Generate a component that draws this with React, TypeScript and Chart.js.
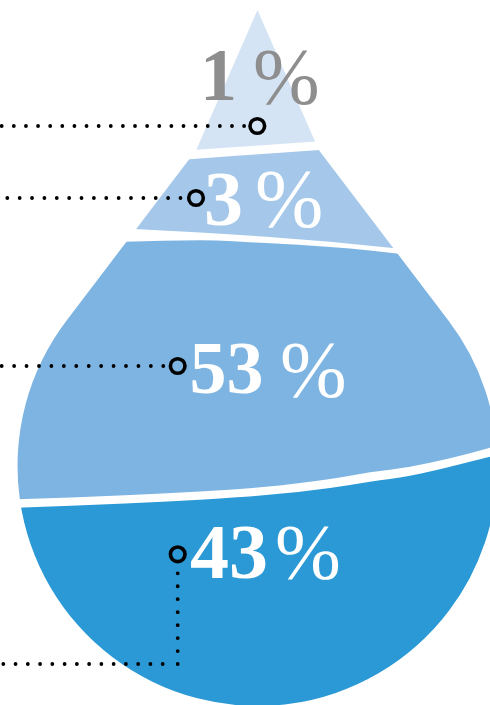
import React, { useEffect, useRef } from "react";
import { Chart, registerables } from "chart.js";

Chart.register(...registerables);

// ---- data ----
const shares = [1, 3, 53, 43];
const bandColors = ["#d5e4f5", "#a5c8ea", "#7eb4e1", "#2a99d5"];
const labelColors = ["#8e8e8e", "#ffffff", "#ffffff", "#ffffff"];

// band edges (drawing units, y grows downward)
const edgeX = [0, 125, 200, 266, 330, 370, 410, 450, 490];
const band1Bottom = [163.8, 154.9, 149.6, 145.0, 140.5, 137.6, 134.8, 132.0, 129.2];
const band2Top = [172.5, 163.7, 158.4, 153.7, 149.2, 146.3, 143.5, 140.7, 137.9];
const band2Bottom = [221.5, 228.5, 232.5, 236.7, 241.8, 245.8, 249.8, 253.8, 257.8];
const band3Top = [246.0, 241.7, 240.2, 243.0, 247.0, 250.5, 255.0, 259.5, 265.0];
const band3Bottom = [500.0, 495.3, 491.5, 486.8, 479.0, 472.3, 466.7, 458.3, 447.7];
const band4Top = [508.5, 503.6, 499.8, 495.1, 488.0, 481.7, 475.7, 466.7, 456.7];

// label anchors (markers) and leader lines
const markerX = [257.3, 196, 177.7, 177.7];
const markerY = [126, 198, 366, 554.3];
const leaderStartX = [1.7, 7.3, 1.7, 3.3];
const leaderEndX = [244.2, 180.5, 163.6, 163.2];
const leaderY = [126, 198, 366, 664];
const leaderGap = [12.12, 12.37, 12.43, 12.26];
const elbowTopY = 573.3;

// label text placement
const numX = [200, 204, 189.5, 190];
const numBase = [100, 225, 393.3, 578.3];
const numSize = [74, 78, 74, 78];
const pctX = [253, 255, 280, 275];
const pctBase = [104, 226, 397, 578];
const pctSize = [80, 82, 80, 79];

// drop outline
const drop = { tipX: 257.5, tipY: 10, bendY: 150, cx: 257.5, cy: 466, r: 240, slope: 0.76 };

const toPts = (ys: number[]) => edgeX.map((x, i) => ({ x, y: ys[i] }));

function traceDrop(ctx: CanvasRenderingContext2D, xs: any, ys: any) {
  const px = (v: number) => xs.getPixelForValue(v);
  const py = (v: number) => ys.getPixelForValue(v);
  const s = drop.slope;
  const n = Math.sqrt(1 + s * s);
  const lx = drop.cx - drop.r / n;
  const ly = drop.cy - (drop.r * s) / n;
  const rx = drop.cx + drop.r / n;
  const bendLX = lx + s * (ly - drop.bendY);
  const bendRX = rx - s * (ly - drop.bendY);
  const cxp = px(drop.cx);
  const cyp = py(drop.cy);
  const rp = Math.abs(px(drop.cx + drop.r) - cxp);
  const a1 = Math.atan2(py(ly) - cyp, px(lx) - cxp);
  const a2 = Math.atan2(py(ly) - cyp, px(rx) - cxp);
  ctx.beginPath();
  ctx.moveTo(px(drop.tipX), py(drop.tipY));
  ctx.lineTo(px(bendLX), py(drop.bendY));
  ctx.lineTo(px(lx), py(ly));
  ctx.arc(cxp, cyp, rp, a1, a2, true);
  ctx.lineTo(px(bendRX), py(drop.bendY));
  ctx.closePath();
}

const dropPlugin = {
  id: "dropPlugin",
  beforeDatasetsDraw(chart: any) {
    const { ctx, scales } = chart;
    ctx.save();
    traceDrop(ctx, scales.x, scales.y);
    ctx.clip();
    chart.$dropClip = true;
  },
  beforeDatasetDraw(chart: any, args: any) {
    const ds = chart.data.datasets[args.index];
    if (chart.$dropClip && ds.overlay) {
      chart.ctx.restore();
      chart.$dropClip = false;
    }
  },
  afterDatasetsDraw(chart: any) {
    const { ctx, scales } = chart;
    if (chart.$dropClip) {
      ctx.restore();
      chart.$dropClip = false;
    }
    ctx.save();
    ctx.textAlign = "left";
    ctx.textBaseline = "alphabetic";
    shares.forEach((v, i) => {
      ctx.fillStyle = labelColors[i];
      ctx.font = `bold ${numSize[i]}px "Liberation Serif", serif`;
      ctx.fillText(String(v), scales.x.getPixelForValue(numX[i]), scales.y.getPixelForValue(numBase[i]));
      ctx.font = `${pctSize[i]}px "Liberation Serif", serif`;
      ctx.fillText("%", scales.x.getPixelForValue(pctX[i]), scales.y.getPixelForValue(pctBase[i]));
    });
    ctx.restore();
  },
};

const bandBase = {
  type: "line" as const,
  borderWidth: 0,
  pointRadius: 0,
  cubicInterpolationMode: "monotone" as const,
  order: 1,
};

const dotLine = (pts: { x: number; y: number }[], gap: number) => ({
  type: "line" as const,
  data: pts,
  overlay: true,
  order: 0,
  borderColor: "#000000",
  borderWidth: 3.8,
  borderCapStyle: "round" as const,
  borderDash: [0, gap],
  pointRadius: 0,
  fill: false,
  tension: 0,
});

export default function App() {
  const ref = useRef<HTMLCanvasElement | null>(null);
  useEffect(() => {
    document.body.style.margin = "0";
    if (!ref.current) return;
    const leaders = shares.map((_, i) =>
      dotLine(
        [
          { x: leaderStartX[i], y: leaderY[i] },
          { x: leaderEndX[i] + 0.3, y: leaderY[i] },
        ],
        leaderGap[i]
      )
    );
    const elbow = dotLine(
      [
        { x: markerX[3], y: leaderY[3] },
        { x: markerX[3], y: elbowTopY - 0.3 },
      ],
      (leaderY[3] - elbowTopY) / 7
    );
    const chart = new Chart(ref.current, {
      type: "line",
      data: {
        datasets: [
          { ...bandBase, label: "1 %", data: toPts(band1Bottom), fill: { value: 0 }, backgroundColor: bandColors[0] },
          { ...bandBase, label: "3 % top", data: toPts(band2Top), fill: false },
          { ...bandBase, label: "3 %", data: toPts(band2Bottom), fill: 1, backgroundColor: bandColors[1] },
          { ...bandBase, label: "53 % top", data: toPts(band3Top), fill: false },
          { ...bandBase, label: "53 %", data: toPts(band3Bottom), fill: 3, backgroundColor: bandColors[2] },
          { ...bandBase, label: "43 %", data: toPts(band4Top), fill: { value: 705 }, backgroundColor: bandColors[3] },
          ...leaders,
          elbow,
          {
            type: "line",
            label: "markers",
            overlay: true,
            order: -1,
            data: markerX.map((x, i) => ({ x, y: markerY[i] })),
            showLine: false,
            pointRadius: 7.3,
            pointBorderWidth: 3.6,
            pointBorderColor: "#000000",
            pointBackgroundColor: "rgba(0,0,0,0)",
            fill: false,
          },
        ] as any,
      },
      options: {
        animation: false,
        responsive: false,
        maintainAspectRatio: false,
        layout: { padding: 0, autoPadding: false },
        events: [],
        scales: {
          x: { type: "linear", min: 0, max: 490, display: false },
          y: { type: "linear", min: 0, max: 705, reverse: true, display: false },
        },
        plugins: {
          legend: { display: false },
          tooltip: { enabled: false },
          filler: { propagate: false },
        },
      },
      plugins: [dropPlugin],
    });
    return () => chart.destroy();
  }, []);
  return (
    <canvas
      ref={ref}
      width={490}
      height={705}
      style={{ display: "block", width: 490, height: 705 }}
    />
  );
}
